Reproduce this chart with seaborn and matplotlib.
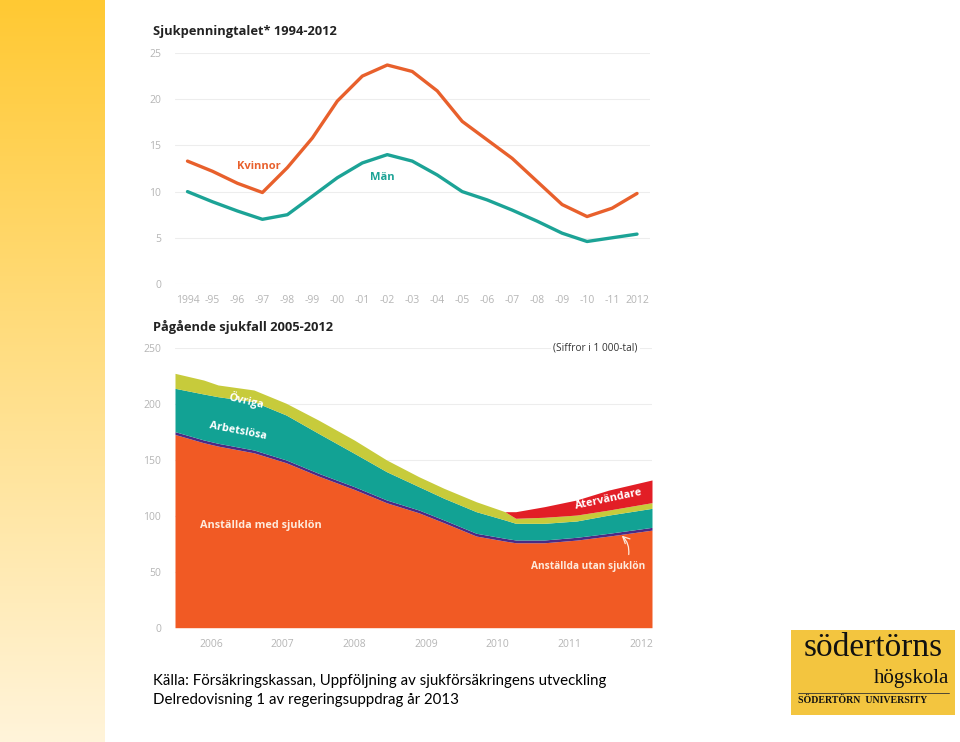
import numpy as np
import pandas as pd
import matplotlib
matplotlib.use("Agg")
import matplotlib.pyplot as plt
import matplotlib.colors as mcolors
import seaborn as sns

# ── Data ─────────────────────────────────────────────────────────────
YEARS = list(range(1994, 2013))
KVINNOR = [13.3, 12.2, 10.9, 9.9, 12.6, 15.8, 19.8, 22.5, 23.7, 23.0,
           20.9, 17.6, 15.6, 13.6, 11.1, 8.6, 7.3, 8.2, 9.8]
MAN = [10.0, 8.9, 7.9, 7.0, 7.5, 9.5, 11.5, 13.1, 14.0, 13.3,
       11.8, 10.0, 9.1, 8.0, 6.8, 5.5, 4.6, 5.0, 5.4]
YEAR_LABELS = ["1994"] + [f"-{y % 100:02d}" for y in YEARS[1:-1]] + ["2012"]

# ongoing sick cases (thousands), band thickness per group
T = [2006.0, 2006.4, 2006.6, 2007.1, 2007.55, 2008.0, 2008.5, 2008.95, 2009.4,
     2009.75, 2010.2, 2010.6, 2010.75, 2011.15, 2011.6, 2012.05, 2012.65]
MED_SJUKLON = [172.9, 165.5, 162.5, 156.5, 147.6, 135.7, 123.7, 111.8, 102.8,
               93.9, 82.0, 77.5, 76.0, 76.0, 78.4, 82.0, 87.3]
UTAN_SJUKLON = [2.5] * 17
ARBETSLOSA = [38.8, 41.1, 41.7, 43.2, 40.2, 35.7, 29.8, 25.3, 20.9,
              19.4, 19.3, 16.4, 14.9, 14.9, 14.6, 16.3, 17.0]
OVRIGA = [13.4, 12.5, 10.5, 10.5, 10.5, 11.9, 11.9, 10.5, 8.9,
          8.9, 8.9, 7.4, 4.5, 5.4, 5.3, 4.5, 5.1]
ATERVANDARE = [0, 0, 0, 0, 0, 0, 0, 0, 0,
               0, 0, 0, 5.9, 9.5, 13.5, 17.9, 20.3]
CASE_YEARS = list(range(2006, 2013))

ORANGE_LINE = "#E8602C"
TEAL_LINE = "#1CA396"
BAND_COLORS = ["#F15A24", "#4B2A85", "#12A294", "#C7CB3B", "#E21E26"]
GRID = "#EDEDED"
TICK = "#B5B5B5"
CREAM = "#FDEBDD"

sns.set_theme(style="white")
plt.rcParams["font.family"] = ["Open Sans", "DejaVu Sans"]

fig = plt.figure(figsize=(9.6, 7.42), dpi=100)

# ── Yellow gradient strip on the left ────────────────────────────────
bg = fig.add_axes([0, 0, 105 / 960, 1])
grad_cmap = mcolors.LinearSegmentedColormap.from_list("g", ["#FFC933", "#FFF4DA"])
bg.imshow(np.linspace(0, 1, 256).reshape(-1, 1), aspect="auto", cmap=grad_cmap)
bg.set_axis_off()


def px_axes(x0, y0, x1, y1):
    return fig.add_axes([x0 / 960, 1 - y1 / 742, (x1 - x0) / 960, (y1 - y0) / 742])


def style_axes(ax):
    for s in ax.spines.values():
        s.set_visible(False)
    ax.grid(False)
    ax.tick_params(axis="y", length=0, pad=10, labelsize=7.5, labelcolor=TICK)
    ax.tick_params(axis="x", which="major", length=0, pad=8, labelsize=7.5, labelcolor=TICK)
    ax.tick_params(axis="x", which="minor", length=4, width=0.6, color="#DDDDDD")
    ax.set_xlabel("")
    ax.set_ylabel("")


# ── Top: Sjukpenningtalet ────────────────────────────────────────────
ax1 = px_axes(175, 53, 650, 284)
df = pd.DataFrame({
    "year": YEARS * 2,
    "value": KVINNOR + MAN,
    "group": ["Kvinnor"] * len(YEARS) + ["Män"] * len(YEARS),
})
for v in range(0, 30, 5):
    ax1.axhline(v, color=GRID, lw=0.8, zorder=0)
sns.lineplot(data=df, x="year", y="value", hue="group",
             palette={"Kvinnor": ORANGE_LINE, "Män": TEAL_LINE},
             linewidth=2.4, legend=False, ax=ax1)
for line in ax1.get_lines():
    line.set_solid_joinstyle("round")
    line.set_solid_capstyle("round")
ax1.set_xlim(1993.56, 2012.52)
ax1.set_ylim(0, 25)
ax1.set_yticks(range(0, 30, 5))
ax1.set_xticks(YEARS)
ax1.set_xticklabels(YEAR_LABELS)
ax1.set_xticks([y + 0.5 for y in YEARS[:-1]] + [1993.5], minor=True)
style_axes(ax1)
ax1.text(1996.85, 12.7, "Kvinnor", color=ORANGE_LINE, fontsize=8,
         fontweight="bold", ha="center", va="center")
ax1.text(2001.8, 11.5, "Män", color=TEAL_LINE, fontsize=8,
         fontweight="bold", ha="center", va="center")
fig.text(153 / 960, 1 - 32 / 742, "Sjukpenningtalet* 1994-2012", fontsize=9.3,
         fontweight="bold", color="#222222", va="center", ha="left")

# ── Bottom: Pågående sjukfall ───────────────────────────────────────
ax2 = px_axes(175, 348.3, 652, 627.7)
for v in range(50, 300, 50):
    ax2.axhline(v, color=GRID, lw=0.8, zorder=0)
ax2.stackplot(T, MED_SJUKLON, UTAN_SJUKLON, ARBETSLOSA, OVRIGA, ATERVANDARE,
              colors=BAND_COLORS, linewidth=0, zorder=2)
ax2.set_xlim(2006.0, 2012.65)
ax2.set_ylim(0, 250)
ax2.set_yticks(range(0, 300, 50))
ax2.set_xticks([y + 0.5 for y in CASE_YEARS])
ax2.set_xticklabels([str(y) for y in CASE_YEARS])
ax2.set_xticks(CASE_YEARS + [2012.65], minor=True)
style_axes(ax2)
ax2.text(2012.45, 250, "(Siffror i 1 000-tal)", fontsize=7.3, color="#333333",
         ha="right", va="center",
         bbox=dict(facecolor="white", edgecolor="none", pad=2))

lab = dict(color="white", fontsize=7.8, fontweight="bold", ha="center",
           va="center", zorder=5)
ax2.text(2007.0, 203, "Övriga", rotation=-13, **lab)
ax2.text(2006.88, 176, "Arbetslösa", rotation=-11, **lab)
ax2.text(2012.04, 115, "Återvändare", rotation=12, **lab)
ax2.text(2007.2, 91, "Anställda med sjuklön", color=CREAM, fontsize=7.8,
         fontweight="bold", ha="center", va="center", zorder=5)
ax2.text(2011.76, 55, "Anställda utan sjuklön", color=CREAM, fontsize=7.3,
         fontweight="bold", ha="center", va="center", zorder=5)
ax2.annotate("", xy=(2012.2, 84), xytext=(2012.32, 63),
             arrowprops=dict(arrowstyle="->", color=CREAM, lw=0.9,
                             connectionstyle="arc3,rad=0.3"), zorder=5)
fig.text(153 / 960, 1 - 327 / 742, "Pågående sjukfall 2005-2012", fontsize=9.3,
         fontweight="bold", color="#222222", va="center", ha="left")

# ── Source ───────────────────────────────────────────────────────────
src = dict(fontsize=10.8, color="black", ha="left", va="center",
           family=["Lato", "DejaVu Sans"])
fig.text(153 / 960, 1 - 681 / 742,
         "Källa: Försäkringskassan, Uppföljning av sjukförsäkringens utveckling", **src)
fig.text(153 / 960, 1 - 700 / 742,
         "Delredovisning 1 av regeringsuppdrag år 2013", **src)

# ── Logo ─────────────────────────────────────────────────────────────
logo = px_axes(791, 630, 955, 715)
logo.set_facecolor("#F3C53F")
logo.set_xlim(0, 1)
logo.set_ylim(0, 1)
logo.set_xticks([])
logo.set_yticks([])
for s in logo.spines.values():
    s.set_visible(False)
serif = ["Liberation Serif", "DejaVu Serif"]
logo.text(0.5, 0.694, "södertörns", family=serif, fontsize=24, color="#111111",
          ha="center", va="baseline")
logo.text(0.965, 0.376, "högskola", family=serif, fontsize=15, color="#111111",
          ha="right", va="baseline")
logo.plot([0.04, 0.965], [0.262, 0.262], color="#333333", lw=0.6)
logo.text(0.04, 0.165, "SÖDERTÖRN  UNIVERSITY", family=serif, fontsize=7.1,
          color="#111111", ha="left", va="center", fontweight="bold")

fig.savefig("out.png", dpi=100)
